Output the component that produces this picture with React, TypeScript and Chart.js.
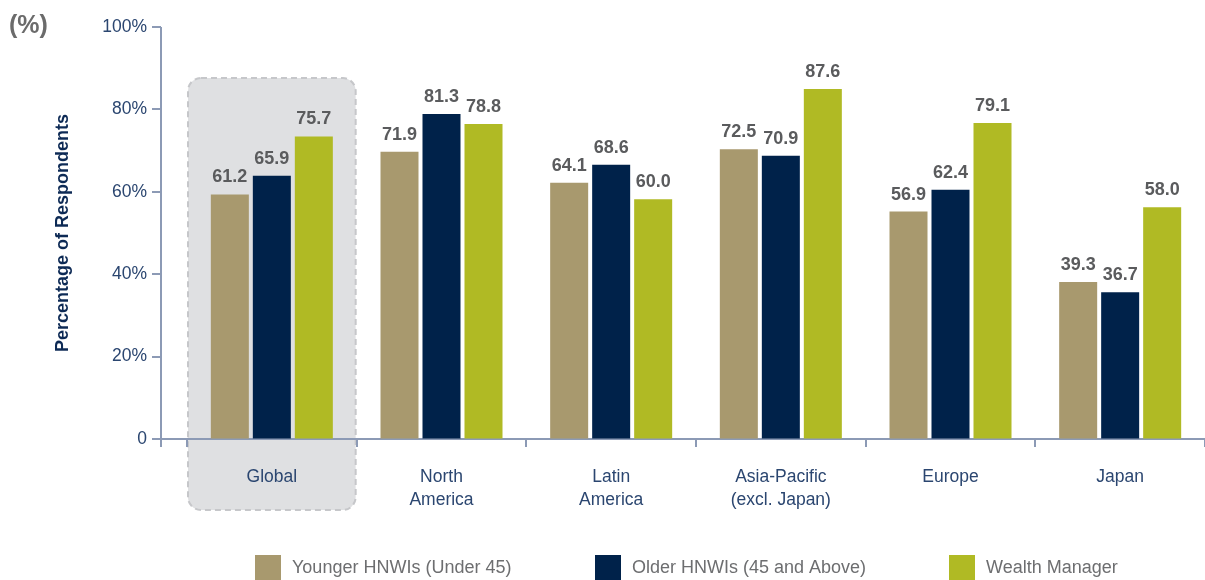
import React, { useEffect, useRef } from "react";
import { Chart, registerables } from "chart.js";

Chart.register(...registerables);

const CATEGORIES: string[][] = [
  ["Global"],
  ["North", "America"],
  ["Latin", "America"],
  ["Asia-Pacific", "(excl. Japan)"],
  ["Europe"],
  ["Japan"],
];
const YOUNGER = [61.2, 71.9, 64.1, 72.5, 56.9, 39.3];
const OLDER = [65.9, 81.3, 68.6, 70.9, 62.4, 36.7];
const WEALTH_MANAGER = [75.7, 78.8, 60.0, 87.6, 79.1, 58.0];
const SERIES_LABELS = [
  "Younger HNWIs (Under 45)",
  "Older HNWIs (45 and Above)",
  "Wealth Manager",
];
const Y_TICKS = [0, 20, 40, 60, 80, 100];
const Y_TICK_LABELS = ["0", "20%", "40%", "60%", "80%", "100%"];
// gridline spacing of the reference axis relative to the plotted values
const AXIS_STRETCH = 1.031;

const COLORS = ["#a8996e", "#00224a", "#b0ba24"];
const AXIS_COLOR = "#8c9ab5";
const FONT = "'Liberation Sans', Arial, sans-serif";

const decorPlugin = {
  id: "decor",
  beforeDraw(chart: any) {
    const { ctx } = chart;
    const x = chart.scales.x;
    const catW = x.width / CATEGORIES.length;
    const left = x.getPixelForValue(0) - catW / 2;
    const right = left + catW;
    const top = 78;
    const bottom = 510;
    const r = 13;
    ctx.save();
    ctx.beginPath();
    ctx.roundRect(left + 1, top, right - left - 2, bottom - top, r);
    ctx.fillStyle = "#dfe0e2";
    ctx.fill();
    ctx.setLineDash([6, 4]);
    ctx.lineWidth = 2;
    ctx.strokeStyle = "#c6c7ca";
    ctx.stroke();
    ctx.restore();
  },
  afterDraw(chart: any) {
    const { ctx, chartArea } = chart;
    const y = chart.scales.y;
    const axisX = chartArea.left - 26;
    ctx.save();
    ctx.strokeStyle = AXIS_COLOR;
    ctx.lineWidth = 2;
    ctx.beginPath();
    ctx.moveTo(axisX, chartArea.top);
    ctx.lineTo(axisX, chartArea.bottom + 8);
    ctx.stroke();
    ctx.beginPath();
    ctx.moveTo(axisX, chartArea.bottom);
    ctx.lineTo(chartArea.left, chartArea.bottom);
    ctx.stroke();
    y.ticks.forEach((t: any) => {
      const py = Math.round(y.getPixelForValue(t.value));
      ctx.beginPath();
      ctx.moveTo(axisX - 9, py);
      ctx.lineTo(axisX, py);
      ctx.stroke();
    });

    // (%) unit
    ctx.fillStyle = "#6b6b6b";
    ctx.font = `bold 25px ${FONT}`;
    ctx.textAlign = "left";
    ctx.textBaseline = "alphabetic";
    ctx.fillText("(%)", 9, 33);

    // value labels
    ctx.fillStyle = "#5a5b5d";
    ctx.font = `bold 18px ${FONT}`;
    ctx.textAlign = "center";
    chart.data.datasets.forEach((ds: any, di: number) => {
      const meta = chart.getDatasetMeta(di);
      meta.data.forEach((bar: any, i: number) => {
        ctx.fillText(ds.data[i].toFixed(1), bar.x, bar.y - 12);
      });
    });

    // legend
    const legendX = [255, 595, 949];
    const legendY = 555;
    ctx.font = `18px ${FONT}`;
    ctx.textAlign = "left";
    ctx.textBaseline = "middle";
    chart.data.datasets.forEach((ds: any, di: number) => {
      ctx.fillStyle = ds.backgroundColor;
      ctx.fillRect(legendX[di], legendY, 26, 25);
      ctx.fillStyle = "#6d6e70";
      ctx.fillText(ds.label, legendX[di] + 37, legendY + 13);
    });
    ctx.restore();
  },
};

export default function App() {
  const canvasRef = useRef<HTMLCanvasElement | null>(null);

  useEffect(() => {
    if (!canvasRef.current) return;
    const seriesData = [YOUNGER, OLDER, WEALTH_MANAGER];
    const chart = new Chart(canvasRef.current, {
      type: "bar",
      data: {
        labels: CATEGORIES,
        datasets: seriesData.map((d, i) => ({
          label: SERIES_LABELS[i],
          data: d,
          backgroundColor: COLORS[i],
          borderWidth: 0,
          categoryPercentage: 0.7426,
          barPercentage: 0.905,
        })),
      },
      options: {
        animation: false,
        responsive: true,
        maintainAspectRatio: false,
        layout: { padding: { top: 27, left: 0, right: 0, bottom: 0 } },
        plugins: {
          legend: { display: false },
          tooltip: { enabled: false },
        },
        scales: {
          x: {
            offset: true,
            grid: {
              display: true,
              offset: true,
              drawOnChartArea: false,
              drawTicks: true,
              tickLength: 8,
              color: AXIS_COLOR,
              lineWidth: 2,
            },
            border: { display: true, color: AXIS_COLOR, width: 2 },
            ticks: {
              color: "#2b4670",
              font: { family: FONT, size: 17.5, lineHeight: 1.35 },
              padding: 18,
              maxRotation: 0,
              autoSkip: false,
            },
            afterFit(scale: any) {
              scale.height = 141;
            },
          },
          y: {
            min: 0,
            max: 100 * AXIS_STRETCH,
            grid: {
              display: true,
              drawOnChartArea: false,
              drawTicks: true,
              tickLength: 38,
              color: "rgba(0,0,0,0)",
            },
            border: { display: false },
            afterBuildTicks(scale: any) {
              scale.ticks = Y_TICKS.map((v) => ({ value: v * AXIS_STRETCH }));
            },
            ticks: {
              color: "#2b4670",
              font: { family: FONT, size: 17.5 },
              padding: 2,
              callback: (_v: any, idx: number) => Y_TICK_LABELS[idx],
            },
            title: {
              display: true,
              text: "Percentage of Respondents",
              color: "#0d2a55",
              font: { family: FONT, size: 18, weight: "bold" },
              padding: { top: 52, bottom: 0 },
            },
            afterFit(scale: any) {
              scale.width = 187;
            },
          },
        },
      },
      plugins: [decorPlugin],
    });
    return () => chart.destroy();
  }, []);

  return (
    <div
      style={{
        position: "absolute",
        left: 0,
        top: 0,
        width: 1205,
        height: 580,
        background: "#fff",
      }}
    >
      <canvas ref={canvasRef} />
    </div>
  );
}
